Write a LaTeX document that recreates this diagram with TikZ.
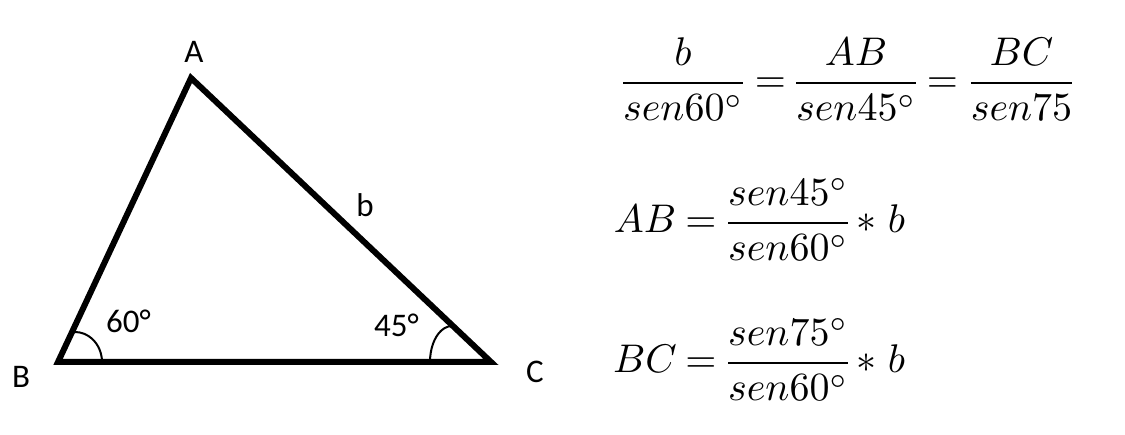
\documentclass[tikz,border=0pt]{standalone}
\usepackage{fontspec}
\newfontfamily\labelfont{Carlito}
\begin{document}
\begin{tikzpicture}[x=1pt,y=1pt,
  lbl/.style={font=\labelfont\fontsize{33}{36}\selectfont,inner sep=0pt,anchor=base},
  eq/.style={font=\normalsize,scale=4,inner sep=0pt,anchor=base},
  side/.style={line width=6pt,line join=miter},
  anglearc/.style={line width=2pt}]
\useasboundingbox (0,0) rectangle (1125,-435);
% vertices
\coordinate (A) at (191,-78);
\coordinate (B) at (58,-362);
\coordinate (C) at (491,-362);
\coordinate (Barc) at (102,-362);
\coordinate (Carc) at (430,-362);
% angle arcs
\draw[anglearc] (Barc) arc[start angle=0,end angle=100,x radius=27,y radius=30];
\draw[anglearc] (Carc) arc[start angle=180,end angle=80,x radius=22,y radius=36];
% triangle
\draw[side] (A) -- (B) -- (C) -- cycle;
% labels
\node[lbl] (lA) at (194,-63) {A};
\node[lbl] (lB) at (21,-388) {B};
\node[lbl] (lC) at (535,-383) {C};
\node[lbl] (lb) at (365,-216.5) {b};
\node[lbl] (l60) at (128.5,-333) {60°};
\node[lbl] (l45) at (396.5,-337) {45°};
% equation 1
\node[eq] (f1) at (683,-93) {$\displaystyle\frac{b}{sen60^\circ}$};
\node[eq] (e1) at (770.5,-93) {$=$};
\node[eq] (f2) at (856,-93) {$\displaystyle\frac{AB}{sen45^\circ}$};
\node[eq] (e2) at (942.5,-93) {$=$};
\node[eq] (f3) at (1021.5,-93) {$\displaystyle\frac{BC}{sen75}$};
% equation 2
\node[eq] (AB2) at (645,-233) {$AB$};
\node[eq] (e3) at (701,-233) {$=$};
\node[eq] (f4) at (788,-233) {$\displaystyle\frac{sen45^\circ}{sen60^\circ}$};
\node[eq] (s1) at (866.5,-233) {$\ast$};
\node[eq] (b1) at (896.5,-233) {$b$};
% equation 3
\node[eq] (BC3) at (645,-373) {$BC$};
\node[eq] (e4) at (701,-373) {$=$};
\node[eq] (f5) at (788,-373) {$\displaystyle\frac{sen75^\circ}{sen60^\circ}$};
\node[eq] (s2) at (866.5,-373) {$\ast$};
\node[eq] (b2) at (896.5,-373) {$b$};
\end{tikzpicture}
\end{document}
